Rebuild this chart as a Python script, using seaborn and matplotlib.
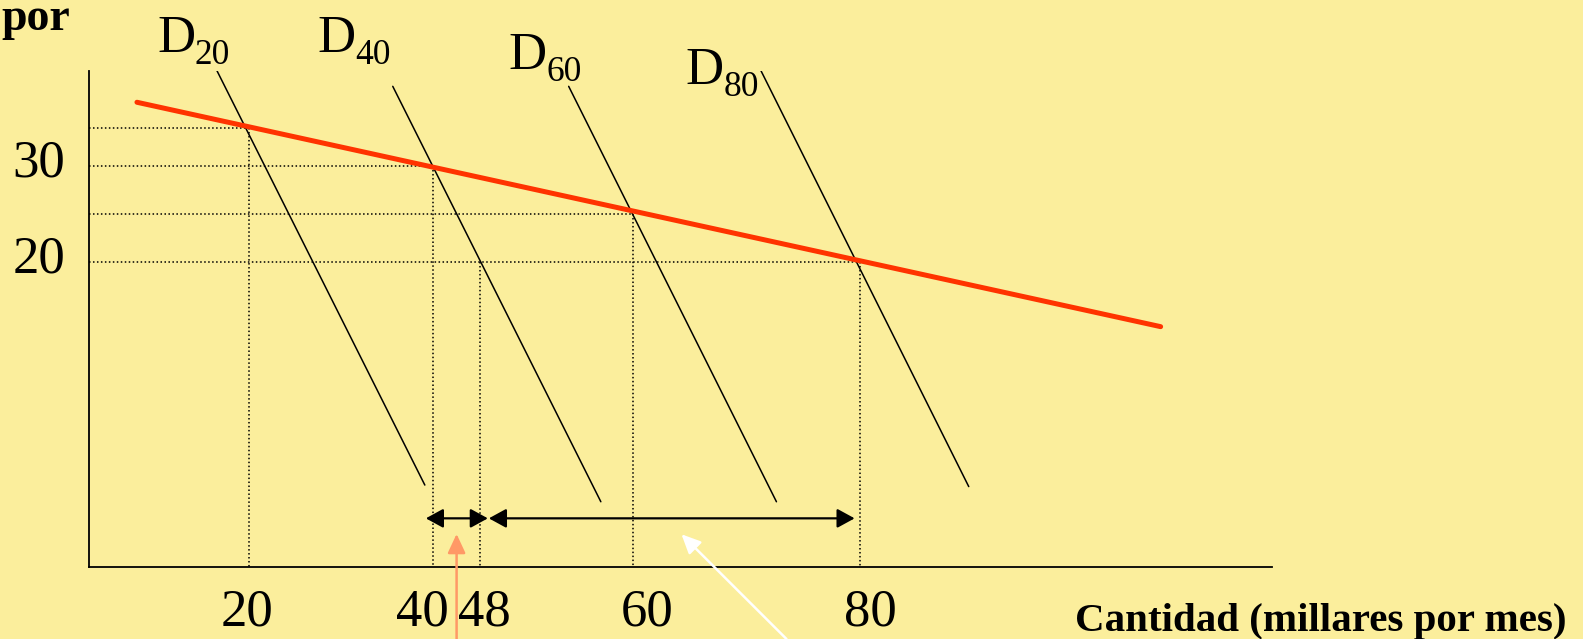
import matplotlib
matplotlib.use("Agg")
import matplotlib.pyplot as plt
from matplotlib.transforms import ScaledTranslation
import seaborn as sns
import pandas as pd

# ---------------- data (schematic coordinates) ----------------
# horizontal dotted guide levels (price) and how far right each one runs
price_levels = [34, 30, 25, 20]
hline_ends = [20, 38.1, 57.7, 80]

# vertical dotted guides (quantity positions) and the price level they start from
quantity_guides = [20, 38.1, 42.7, 57.7, 80]
guide_tops = [34, 30, 20, 25, 20]

# tick labels
x_tick_labels = ["20", "40", "48", "60", "80"]
x_label_pos = [19.8, 37.0, 43.1, 59.1, 81.0]
y_tick_vals = [30, 20]
y_tick_labels = ["30", "20"]

# demand curves D20 ... D80
curve_sub = ["20", "40", "60", "80"]
curve_x_start = [16.84, 34.13, 51.41, 70.28]
curve_y_start = [39.97, 38.30, 38.30, 39.97]
curve_x_end = [37.28, 54.57, 71.82, 90.71]
curve_y_end = [-3.26, -5.0, -5.0, -3.42]
label_x = [10.97, 26.71, 45.53, 62.92]
label_y = [41.88, 41.88, 40.15, 38.58]

# market demand (red)
market_x = [9.0, 109.56]
market_y = [36.64, 13.25]

# effect arrows (double-headed) at one price level
effect_y = -6.73
effect_x0 = [37.38, 43.57]
effect_x1 = [43.47, 79.5]

# pointer arrows (tail -> tip)
pointer_colors = ["#FF9966", "#FFFFFF"]
pointer_tail = [(40.40, -19.3), (72.80, -19.3)]
pointer_tip = [(40.40, -8.36), (62.49, -8.39)]

# ---------------- styling ----------------
BG = "#FBEE9C"
sns.set_theme(style="white")
plt.rcParams["font.family"] = ["Liberation Serif", "DejaVu Serif"]

W, H = 1583, 639
fig = plt.figure(figsize=(W / 100, H / 100), dpi=100, facecolor=BG)
ax = fig.add_axes([89 / W, 1 - 566.5 / H, (1272 - 89) / W, (566.5 - 70.7) / H])
ax.set_facecolor(BG)
XMIN, XMAX = 4.29, 120.5
YMIN, YMAX = -11.75, 39.93
ax.set_xlim(XMIN, XMAX)
ax.set_ylim(YMIN, YMAX)

for s in ["top", "right"]:
    ax.spines[s].set_visible(False)
for s in ["left", "bottom"]:
    ax.spines[s].set_color("black")
    ax.spines[s].set_linewidth(1.3)

dot = (0, (1.0, 1.6))
for lvl, xe in zip(price_levels, hline_ends):
    ax.plot([XMIN, xe], [lvl, lvl], color="black", lw=1.1, ls=dot, zorder=1)
for q, top in zip(quantity_guides, guide_tops):
    ax.plot([q, q], [top, YMIN], color="black", lw=1.1, ls=dot, zorder=1)

# demand curves
for xs, ys, xe, ye in zip(curve_x_start, curve_y_start, curve_x_end, curve_y_end):
    df = pd.DataFrame({"q": [xs, xe], "p": [ys, ye]})
    sns.lineplot(data=df, x="q", y="p", ax=ax, color="black", lw=1.1,
                 sort=False, estimator=None, zorder=2)

# curve labels: "D" plus a lowered, smaller subscript
for sub, lx, ly in zip(curve_sub, label_x, label_y):
    ax.text(lx, ly, "D", fontsize=38, ha="left", va="baseline",
            color="black", clip_on=False)
    ax.annotate(sub, xy=(lx, ly), xycoords="data",
                xytext=(27.1, -8.8), textcoords="offset points",
                fontsize=25.5, ha="left", va="baseline", color="black",
                annotation_clip=False)

# market demand
dfm = pd.DataFrame({"q": market_x, "p": market_y})
sns.lineplot(data=dfm, x="q", y="p", ax=ax, color="#FF3300", lw=3.6,
             sort=False, estimator=None, zorder=3)

# double arrows
for x0, x1 in zip(effect_x0, effect_x1):
    ax.annotate("", xy=(x1, effect_y), xytext=(x0, effect_y),
                arrowprops=dict(arrowstyle="<|-|>,head_length=0.53,head_width=0.29",
                                mutation_scale=20, color="black", lw=1.6,
                                shrinkA=0, shrinkB=0), annotation_clip=False)

# pointer arrows
for c, tail, tip in zip(pointer_colors, pointer_tail, pointer_tip):
    ax.annotate("", xy=tip, xytext=tail,
                arrowprops=dict(arrowstyle="-|>,head_length=0.58,head_width=0.27",
                                mutation_scale=20, color=c, lw=1.8,
                                shrinkA=0, shrinkB=0), annotation_clip=False)

# ticks
ax.set_xticks(x_label_pos)
ax.set_xticklabels(x_tick_labels)
ax.set_yticks(y_tick_vals)
ax.set_yticklabels(y_tick_labels)
ax.tick_params(axis="both", length=0, labelsize=38, colors="black")
ax.tick_params(axis="x", pad=16)
ax.tick_params(axis="y", pad=17)
shift_up = ScaledTranslation(0, 8 / 100, fig.dpi_scale_trans)
for lab in ax.get_yticklabels():
    lab.set_transform(lab.get_transform() + shift_up)
ax.set_xlabel("")
ax.set_ylabel("")

# axis titles (the price title is only partly visible in the original)
fig.text(1075 / W, 1 - 630.7 / H, "Cantidad (millares por mes)", fontsize=29.5,
         fontweight="bold", ha="left", va="baseline", color="black")
fig.text(1 / W, 1 - 30 / H, "por", fontsize=33, fontweight="bold",
         ha="left", va="baseline", color="black")

fig.savefig("out.png", dpi=100, facecolor=BG)
